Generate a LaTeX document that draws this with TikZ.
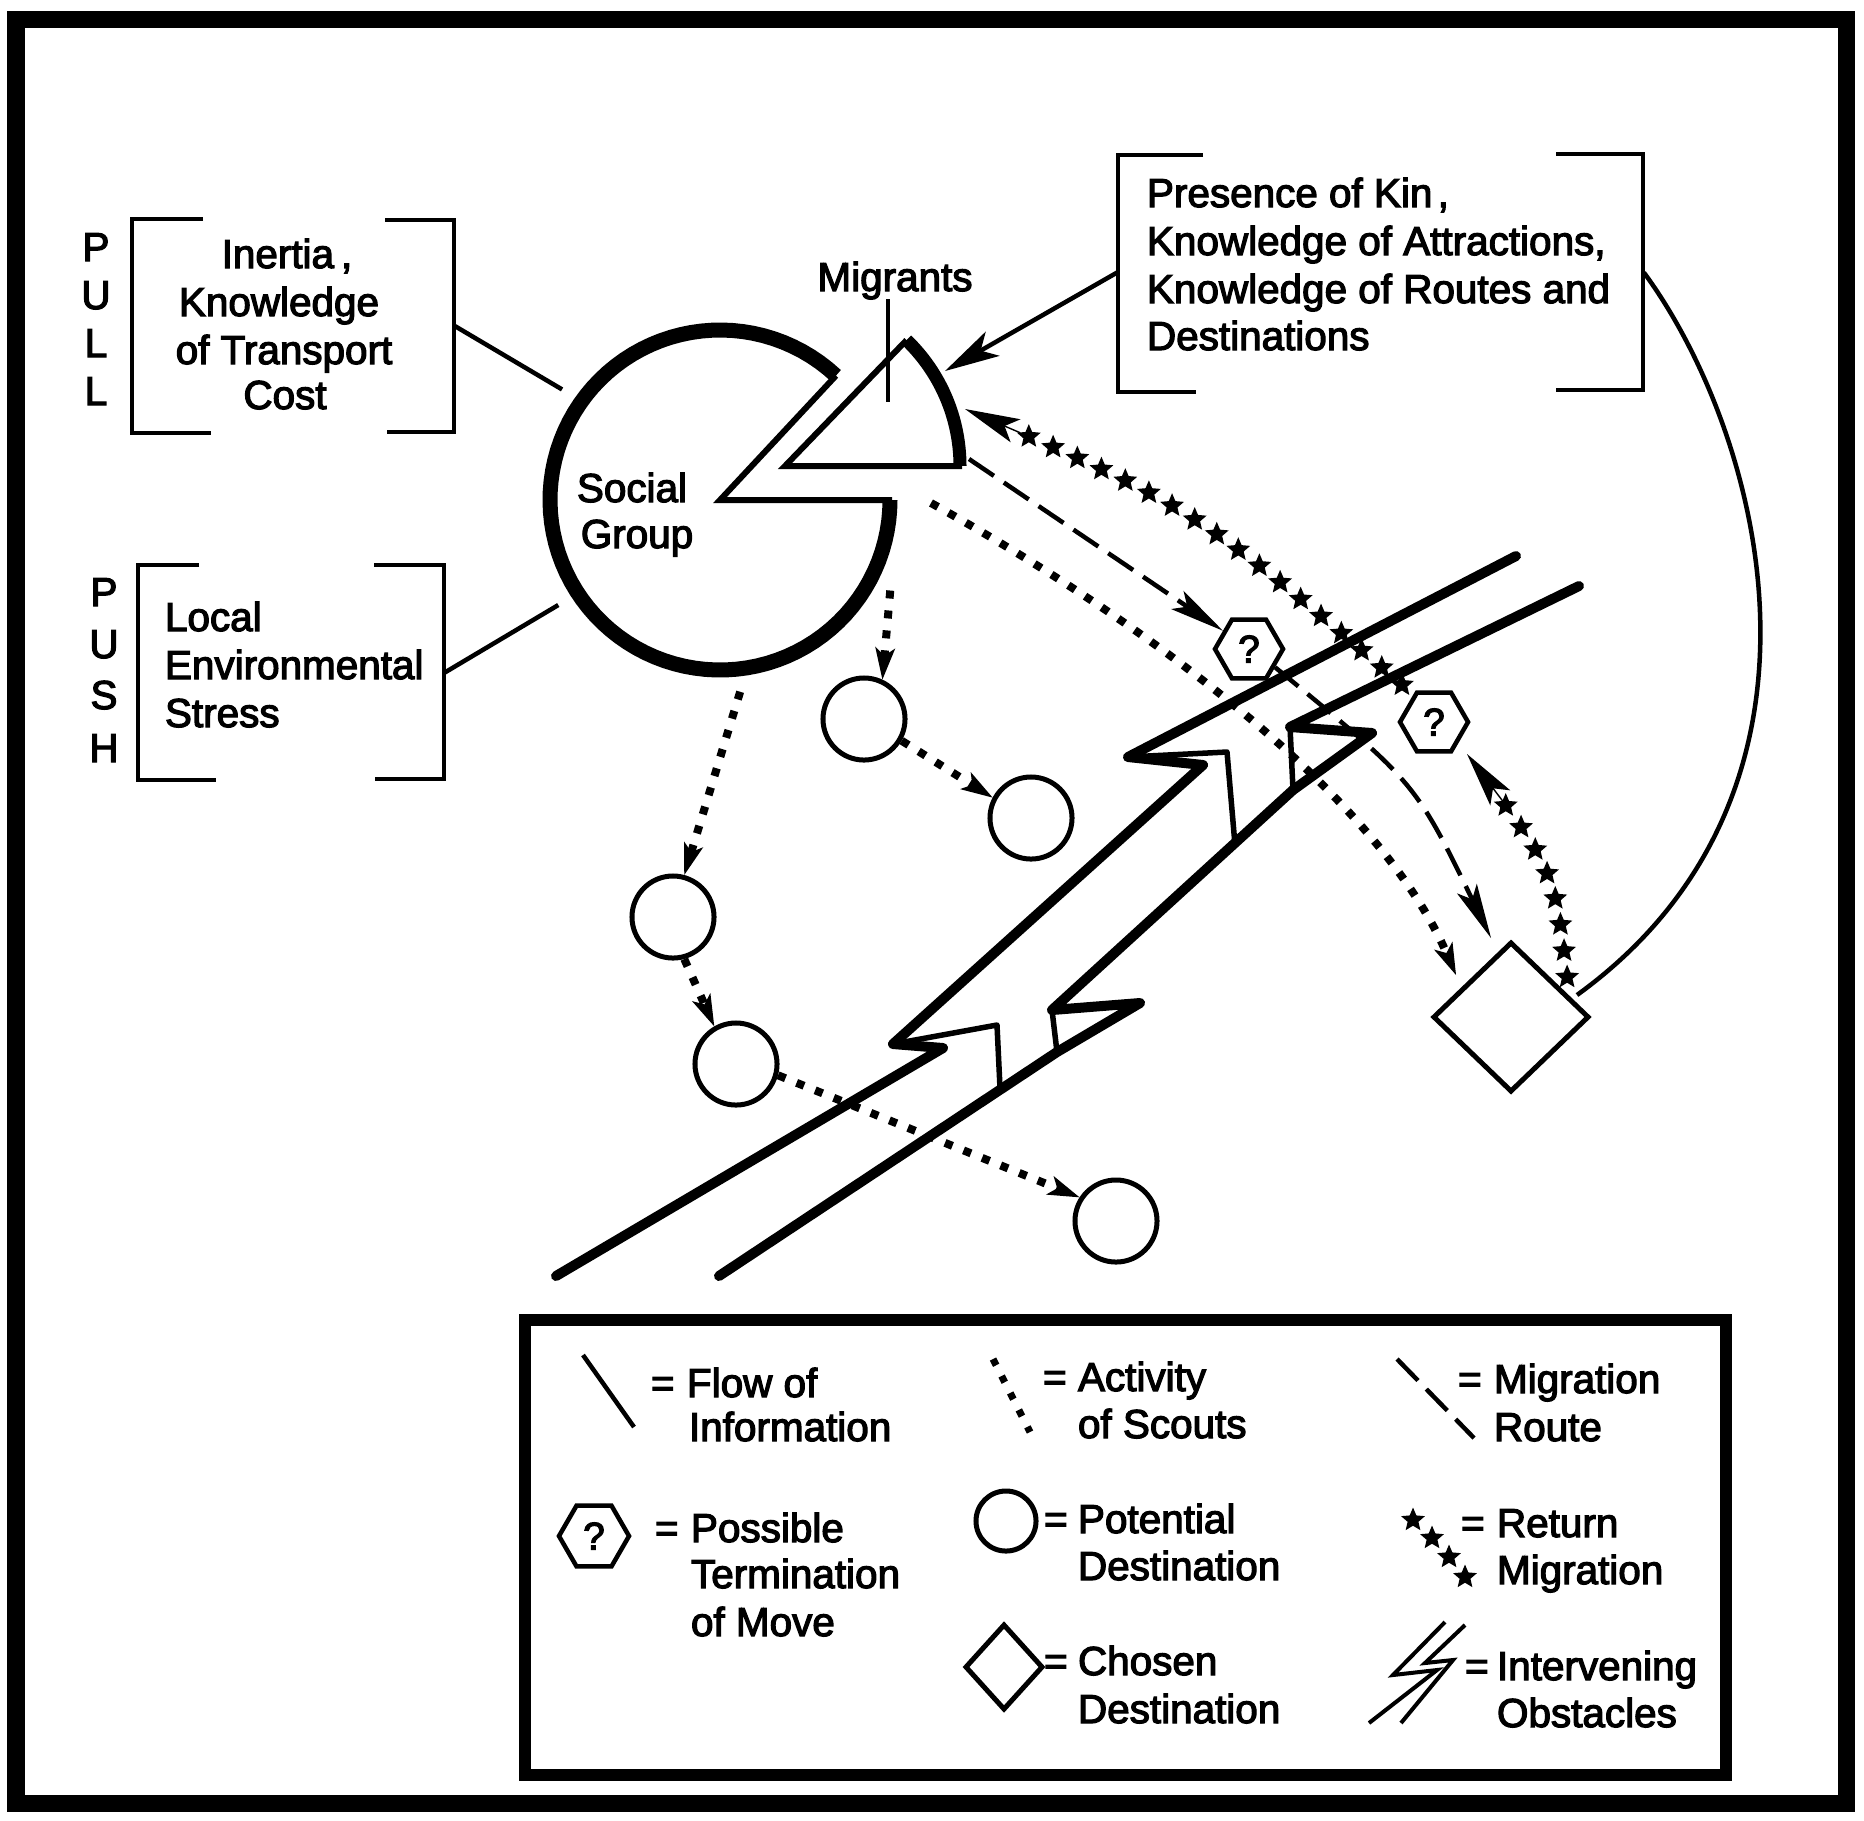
\documentclass[tikz,border=0pt]{standalone}
\usepackage{fontspec}
\newfontfamily\lab{Liberation Sans}[FakeBold=3]
\usetikzlibrary{arrows.meta,shapes.geometric,decorations.markings,calc}
\tikzset{
  txt/.style={font={\lab\fontsize{11.5}{13.5}\selectfont}, inner sep=0pt, outer sep=0pt},
  brk/.style={line width=0.045cm, line join=miter},
  info/.style={line width=0.045cm},
  infohead/.style={-{Stealth[length=0.55cm,width=0.28cm,inset=0.14cm,line width=0.4pt]}},
  scout/.style={line width=0.08cm, dash pattern=on 0.08cm off 0.12cm, -{Stealth[length=0.32cm,width=0.2cm,inset=0.08cm,line width=0.4pt]}},
  scoutdots/.style={line width=0.07cm, dash pattern=on 0.07cm off 0.12cm},
  migr/.style={line width=0.045cm, dash pattern=on 0.3cm off 0.12cm, -{Stealth[length=0.55cm,width=0.22cm,inset=0.12cm,line width=0.4pt]}},
  migrdash/.style={line width=0.045cm, dash pattern=on 0.3cm off 0.12cm},
  starnode/.style={star, star points=5, star point ratio=2.2, fill=black, draw=none, minimum size=0.25cm, inner sep=0pt},
  retpath/.style={postaction={decorate}, decoration={markings,
      mark=between positions 0.08cm and -0.6cm step 0.265cm with {\node[starnode]{};}}},
  rethead/.style={line width=0.4pt, -{Stealth[length=0.55cm,width=0.25cm,inset=0.12cm]}},
  pdest/.style={circle, draw, line width=0.05cm, minimum size=0.82cm, inner sep=0pt},
  hexa/.style={regular polygon, regular polygon sides=6, draw, line width=0.045cm, minimum size=0.68cm, inner sep=0pt, font={\lab\fontsize{11}{13}\selectfont}},
  cdest/.style={diamond, draw, line width=0.05cm, inner sep=0pt},
  band/.style={line width=0.1cm, line join=round, line cap=round},
  bandthin/.style={line width=0.055cm, line join=round, line cap=round},
  boxarea/.style={draw=none, inner sep=0pt, rectangle},
}
\begin{document}
\begin{tikzpicture}[x=0.01cm, y=-0.01cm]
\useasboundingbox (0,0) rectangle (1864,1820);
\draw[line width=0.17cm] (16,19) rectangle (1846,1803);

% ---------- PULL box
\node[boxarea, minimum width=3.22cm, minimum height=2.14cm] (pullbox) at (293,326) {};
\draw[brk] (203,219) -- (132,219) -- (132,433) -- (211,433);
\draw[brk] (385,220) -- (454,220) -- (454,432) -- (387,432);
\node[txt, anchor=base] (pull1) at (287,268) {Inertia\hspace{2pt},};
\node[txt, anchor=base] (pull2) at (279,316) {Knowledge};
\node[txt, anchor=base] (pull3) at (284,364) {of Transport};
\node[txt, anchor=base] (pull4) at (285,409) {Cost};
\node[txt, anchor=base] (pP) at (96,261) {P};
\node[txt, anchor=base] (pU) at (96,309) {U};
\node[txt, anchor=base] (pL1) at (96,357) {L};
\node[txt, anchor=base] (pL2) at (96,405) {L};

% ---------- PUSH box
\node[boxarea, minimum width=3.06cm, minimum height=2.15cm] (pushbox) at (291,672.5) {};
\draw[brk] (199,565) -- (138,565) -- (138,780) -- (216,780);
\draw[brk] (374,565) -- (444,565) -- (444,779) -- (375,779);
\node[txt, anchor=base west] (push1) at (165,631) {Local};
\node[txt, anchor=base west] (push2) at (165,679) {Environmental};
\node[txt, anchor=base west] (push3) at (165,727) {Stress};
\node[txt, anchor=base] (sP) at (104,606) {P};
\node[txt, anchor=base] (sU) at (104,658) {U};
\node[txt, anchor=base] (sS) at (104,709) {S};
\node[txt, anchor=base] (sH) at (104,762) {H};

% ---------- Kin box
\node[boxarea, minimum width=5.25cm, minimum height=2.37cm] (kinbox) at (1380.5,272.5) {};
\draw[brk] (1203,155) -- (1118,155) -- (1118,392) -- (1196,392);
\draw[brk] (1556,154) -- (1643,154) -- (1643,390) -- (1556,390);
\node[txt, anchor=base west] (kin1) at (1147,207) {Presence of Kin\hspace{1.5pt},};
\node[txt, anchor=base west] (kin2) at (1147,255) {Knowledge of Attractions,};
\node[txt, anchor=base west] (kin3) at (1147,303) {Knowledge of Routes and};
\node[txt, anchor=base west] (kin4) at (1147,350) {Destinations};

% ---------- Social group (pacman) and migrants wedge
\node[circle, draw=none, minimum size=3.84cm, inner sep=0pt] (social) at (720,500) {};
\draw[line width=0.15cm] plot[domain=47:360, samples=90] ({720+170*cos(\x)}, {500-170*sin(\x)});
\draw[line width=0.06cm, line join=miter] ({720+170*cos(47)}, {500-170*sin(47)}) -- (720,500) -- (892,500);
\node[txt, anchor=base] (soc1) at (632,502) {Social};
\node[txt, anchor=base] (soc2) at (637,548) {Group};

\draw[line width=0.13cm] plot[domain=0:46, samples=30] ({785+175*cos(\x)}, {466-175*sin(\x)});
\draw[line width=0.06cm, line join=miter] ({785+175*cos(46)}, {466-175*sin(46)}) -- (785,466) -- (962,466);
\node[txt, anchor=base] (migl) at (895,291) {Migrants};
\coordinate (mptr) at (888,402);
\draw[line width=0.04cm] (migl.south -| mptr) -- (mptr);

% ---------- destinations
\node[pdest] (circA) at (864,719) {};
\node[pdest] (circB) at (1031,818) {};
\node[pdest] (circC) at (673,917) {};
\node[pdest] (circD) at (736,1064) {};
\node[pdest] (circE) at (1116,1221) {};
\node[hexa] (h1) at (1249,649) {?};
\node[hexa] (h2) at (1434,722) {?};
\node[cdest, minimum width=1.56cm, minimum height=1.5cm] (chosen) at (1511,1017) {};

% ---------- intervening obstacles
\draw[band] (556,1276) -- (943,1048) -- (893,1044) -- (1203,765) -- (1128,757) -- (1516,556);
\draw[bandthin] (893,1044) -- (997,1025) -- (1000,1088);
\draw[bandthin] (1128,757) -- (1227,752) -- (1235,845);
\draw[band] (719,1276) -- (1057,1052) -- (1140,1003) -- (1052,1010) -- (1293,790) -- (1372,733) -- (1290,727) -- (1579,586);
\draw[bandthin] (1052,1010) -- (1057,1052);
\draw[bandthin] (1290,727) -- (1293,790);

% ---------- flow of information
\coordinate (migtip) at (945,371);
\coordinate (curveend) at (1577,995);
\draw[info] (pullbox.east) -- (social.145);
\draw[info] (pushbox.east) -- (social.213);
\draw[info, infohead] (kinbox.west) -- (migtip);
\draw[info] (kinbox.east) .. controls (1760,430) and (1860,790) .. (curveend);

% ---------- activity of scouts
\coordinate (scoutstart) at (931,503);
\coordinate (scoutend) at (1456,975);
\draw[scout] (social.-84) -- (circC.75);
\draw[scout] (social.-28) -- (circA.65);
\draw[scout] (circA.-30) -- (circB.152);
\draw[scout] (circC.-75) -- (circD.120);
\draw[scout] (circD.-15) -- (circE.147);
\draw[scout] (scoutstart) .. controls (1160,630) and (1380,800) .. (scoutend);

% ---------- migration route
\coordinate (migstart) at (969,459);
\coordinate (migend) at (1491,938);
\draw[migr] (migstart) -- (h1.145);
\draw[migr] (h1.-35) .. controls (1415,782) .. (migend);

% ---------- return migration
\coordinate (retstart) at (1408,690);
\coordinate (rettip) at (965,409);
\coordinate (retctl) at (1195,508);
\coordinate (retstartb) at (1568,985);
\coordinate (rettipb) at (1467,754);
\coordinate (retctlb) at (1555,870);
\path[retpath] (retstart) .. controls (retctl) .. (rettip);
\path[retpath] (retstartb) .. controls (retctlb) .. (rettipb);
\draw[rethead] ($(rettip)!0.6cm!(retctl)$) -- (rettip);
\draw[rethead] ($(rettipb)!0.6cm!(retctlb)$) -- (rettipb);

% ---------- legend
\node[draw, line width=0.12cm, minimum width=12.01cm, minimum height=4.55cm, inner sep=0pt] (legend) at (1125.5,1547.5) {};
\draw[info] (583,1355) -- (634,1427);
\node[txt, anchor=base west] (l1e) at (651,1397) {=};
\node[txt, anchor=base west] (l1a) at (687,1397) {Flow of};
\node[txt, anchor=base west] (l1b) at (689,1441) {Information};

\draw[scoutdots] (993,1359) -- (1030,1432);
\node[txt, anchor=base west] (l2e) at (1043,1391) {=};
\node[txt, anchor=base west] (l2a) at (1078,1391) {Activity};
\node[txt, anchor=base west] (l2b) at (1078,1438) {of Scouts};

\draw[migrdash] (1397,1359) -- (1474,1438);
\node[txt, anchor=base west] (l3e) at (1458,1393) {=};
\node[txt, anchor=base west] (l3a) at (1494,1393) {Migration};
\node[txt, anchor=base west] (l3b) at (1494,1441) {Route};

\node[hexa, minimum size=0.7cm] (lhex) at (594,1536) {?};
\node[txt, anchor=base west] (l4e) at (655,1542) {=};
\node[txt, anchor=base west] (l4a) at (691,1542) {Possible};
\node[txt, anchor=base west] (l4b) at (691,1588) {Termination};
\node[txt, anchor=base west] (l4c) at (691,1636) {of Move};

\node[circle, draw, line width=0.05cm, minimum size=0.6cm, inner sep=0pt] (lcirc) at (1006,1521) {};
\node[txt, anchor=base west] (l5e) at (1044,1533) {=};
\node[txt, anchor=base west] (l5a) at (1078,1533) {Potential};
\node[txt, anchor=base west] (l5b) at (1078,1580) {Destination};

\node[starnode] (ls1) at (1413,1520) {};
\node[starnode] (ls2) at (1432,1538) {};
\node[starnode] (ls3) at (1449,1557) {};
\node[starnode] (ls4) at (1465,1577) {};
\node[txt, anchor=base west] (l6e) at (1461,1537) {=};
\node[txt, anchor=base west] (l6a) at (1497,1537) {Return};
\node[txt, anchor=base west] (l6b) at (1497,1584) {Migration};

\node[cdest, minimum width=0.78cm, minimum height=0.86cm] (ldia) at (1004,1667) {};
\node[txt, anchor=base west] (l7e) at (1044,1675) {=};
\node[txt, anchor=base west] (l7a) at (1078,1675) {Chosen};
\node[txt, anchor=base west] (l7b) at (1078,1723) {Destination};

\draw[line width=0.04cm, line join=miter] (1445,1622) -- (1393,1675) -- (1437,1670) -- (1369,1723);
\draw[line width=0.04cm, line join=miter] (1465,1625) -- (1425,1663) -- (1453,1660) -- (1401,1723);
\node[txt, anchor=base west] (l8e) at (1465,1680) {=};
\node[txt, anchor=base west] (l8a) at (1497,1680) {Intervening};
\node[txt, anchor=base west] (l8b) at (1497,1727) {Obstacles};
\end{tikzpicture}
\end{document}
